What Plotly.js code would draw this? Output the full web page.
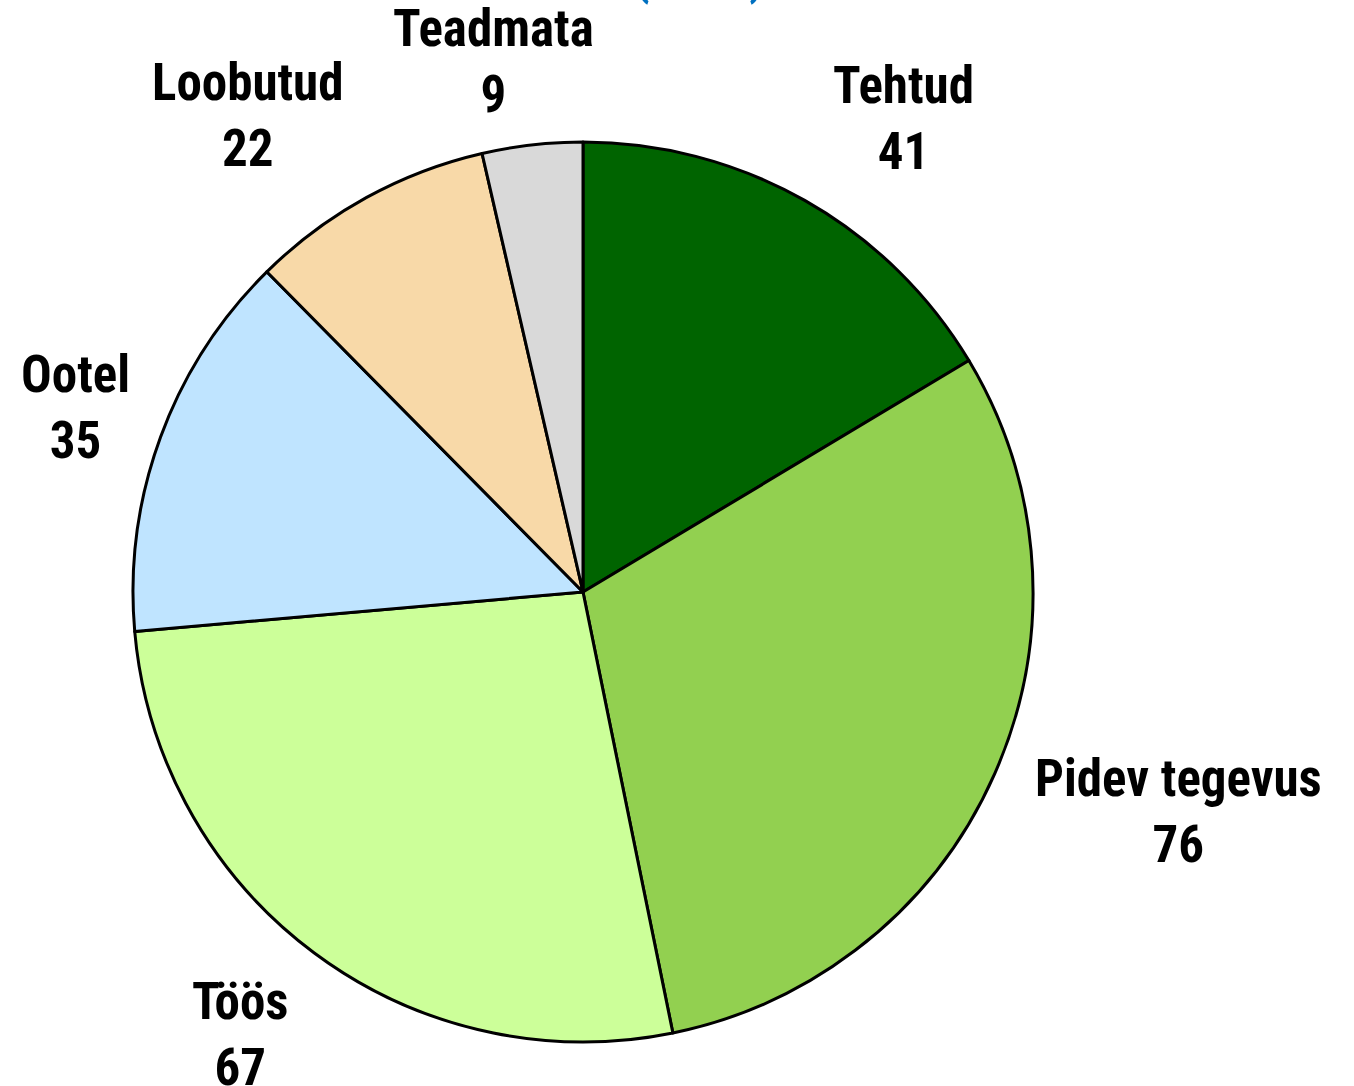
<!DOCTYPE html>
<html><head><meta charset="utf-8">
<script src="https://cdn.plot.ly/plotly-3.0.1.min.js"></script>
<style>html,body{margin:0;padding:0;background:#fff}#chart{width:1354px;height:1086px}</style>
</head><body><div id="chart"></div>
<script>
const labels = ["Tehtud", "Pidev tegevus", "Töös", "Ootel", "Loobutud", "Teadmata"];
const values = [41, 76, 67, 35, 22, 9];
const colors = ["#006400", "#92D050", "#CCFF99", "#BFE4FF", "#F8D9A8", "#D9D9D9"];
const titleText = "(2023)";
// label block centres in pixels (layout only)
const labelPos = [[903,118],[1178,811],[240,1034],[75,407],[247,115],[493,61]];
const W = 1354, H = 1086;
const FONT = "Roboto Condensed, Liberation Sans Narrow, DejaVu Sans Condensed, Roboto, sans-serif";
const annotations = labels.map((l,i)=>({
  text: l + "<br>" + values[i],
  x: labelPos[i][0]/W, y: 1 - labelPos[i][1]/H,
  xref: "paper", yref: "paper", xanchor: "center", yanchor: "middle",
  showarrow: false,
  font: {family: FONT, size: 51, color: "#000", weight: 700}
}));
annotations.push({
  text: titleText, x: 699/W, y: 1 - 8/H, xref: "paper", yref: "paper",
  xanchor: "center", yanchor: "bottom", showarrow: false,
  font: {family: FONT, size: 49, color: "#0070C0", weight: 700}
});
Plotly.newPlot("chart", [{
  type: "pie", labels: labels, values: values, sort: false, direction: "clockwise",
  rotation: 0, textinfo: "none", hoverinfo: "label+value",
  marker: {colors: colors, line: {color: "#000", width: 3}},
  domain: {x: [133/W, 1033/W], y: [1-1042/H, 1-142/H]}
}], {
  width: W, height: H, margin: {l:0, r:0, t:0, b:0}, showlegend: false,
  paper_bgcolor: "#fff", annotations: annotations
}, {displayModeBar: false});
</script></body></html>
